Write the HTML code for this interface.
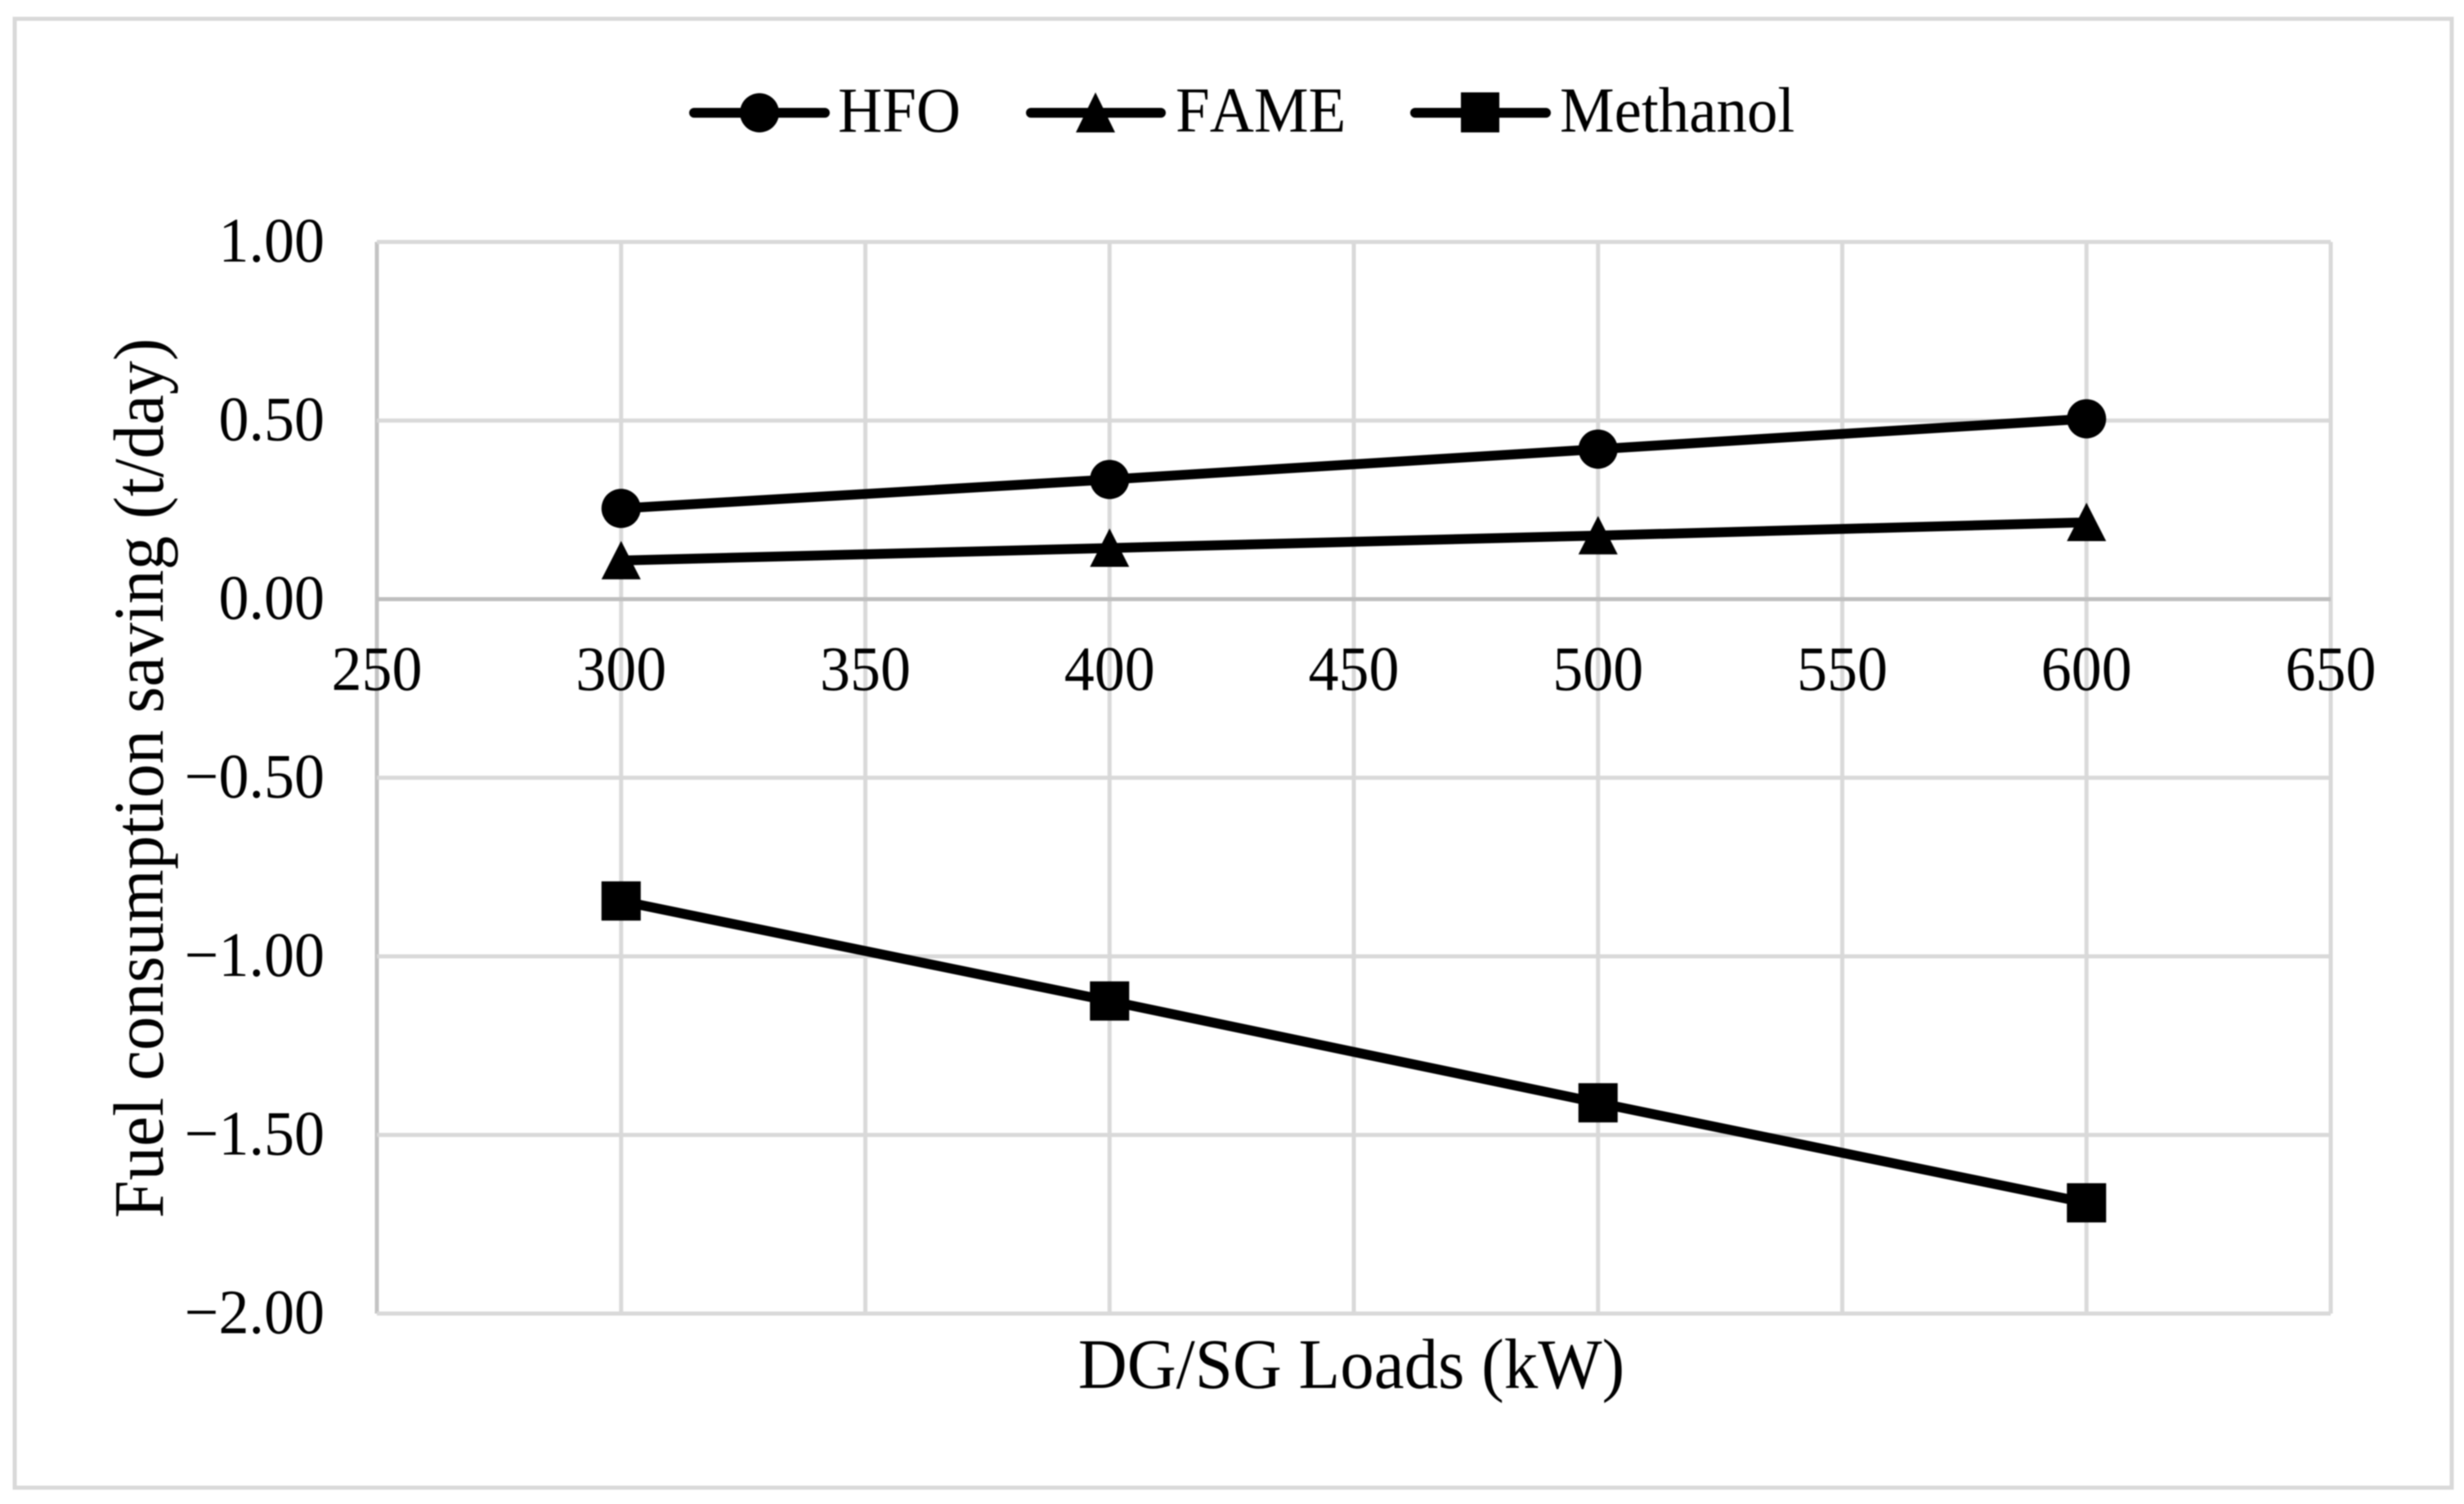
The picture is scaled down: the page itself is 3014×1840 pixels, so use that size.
<!DOCTYPE html>
<html lang="en">
<head>
<meta charset="utf-8">
<title>Fuel consumption saving vs DG/SG loads</title>
<style>
  html, body { margin: 0; padding: 0; background: #fff; }
  svg { display: block; filter: blur(0.7px); }
  text { font-family: "Liberation Serif", serif; fill: #000; font-size: 74px; font-kerning: none; }
</style>
</head>
<body>
<svg id="chart" xmlns="http://www.w3.org/2000/svg" width="3014" height="1840" viewBox="0 0 3014 1840">
  <rect x="0" y="0" width="3014" height="1840" fill="#fff"/>
  <rect x="18" y="23" width="2981" height="1797" fill="#fff" stroke="#d9d9d9" stroke-width="5"/>
  <g id="grid"></g>
  <g id="ticks"></g>
  <g id="series"></g>

  <g>
    <g>
      <line x1="849" y1="138" x2="1009" y2="138" stroke="#000" stroke-width="12" stroke-linecap="round"/>
      <circle cx="929" cy="138" r="24" fill="#000"/>
      <text style="font-size:75px" transform="translate(1025 161) scale(1 1.05)">HFO</text>
    </g>
    <g>
      <line x1="1261" y1="138" x2="1420" y2="138" stroke="#000" stroke-width="12" stroke-linecap="round"/>
      <polygon points="1340,113 1364,162 1316,162" fill="#000"/>
      <text style="font-size:75px" transform="translate(1438 161) scale(1 1.05)">FAME</text>
    </g>
    <g>
      <line x1="1731" y1="138" x2="1891" y2="138" stroke="#000" stroke-width="12" stroke-linecap="round"/>
      <rect x="1787" y="113" width="47" height="49" fill="#000"/>
      <text style="font-size:75px" transform="translate(1908 161) scale(1 1.05)">Methanol</text>
    </g>
  </g>

  <text style="font-size:83px" transform="translate(1653 1698) scale(1 1.05)" text-anchor="middle">DG/SG Loads (kW)</text>
  <text style="font-size:83px" transform="translate(199 952) rotate(-90) scale(1 1.05)" text-anchor="middle">Fuel consumption saving (t/day)</text>
</svg>

<script>
const xTicks = [250, 300, 350, 400, 450, 500, 550, 600, 650];
const yTicks = [1, 0.5, 0, -0.5, -1, -1.5, -2];
const categories = [300, 400, 500, 600];
const hfoValues = [0.254, 0.335, 0.42, 0.505];
const fameValues = [0.108, 0.143, 0.178, 0.215];
const methanolValues = [-0.845, -1.125, -1.41, -1.69];

const NS = 'http://www.w3.org/2000/svg';
const plot = { left: 461, right: 2851, top: 296, bottom: 1607 };
const xMin = 250, xMax = 650, yMin = -2, yMax = 1;

function xScale(v) {
  return plot.left + (v - xMin) / (xMax - xMin) * (plot.right - plot.left);
}
function yScale(v) {
  return plot.top + (yMax - v) / (yMax - yMin) * (plot.bottom - plot.top);
}
function make(tag, attrs) {
  const el = document.createElementNS(NS, tag);
  Object.keys(attrs).forEach(function (k) { el.setAttribute(k, attrs[k]); });
  return el;
}
function formatY(v) {
  const s = Math.abs(v).toFixed(2);
  return v < 0 ? '\u2212' + s : s;
}

const grid = document.getElementById('grid');
const ticks = document.getElementById('ticks');
const seriesGroup = document.getElementById('series');

xTicks.forEach(function (t) {
  const x = xScale(t);
  const edge = t === xMin;
  const line = make('line', { x1: x, y1: plot.top, x2: x, y2: plot.bottom, stroke: edge ? '#c4c4c4' : '#d9d9d9', 'stroke-width': 5 });
  
  
  grid.appendChild(line);
});

yTicks.forEach(function (t) {
  const y = yScale(t);
  const line = make('line', { x1: plot.left, y1: y, x2: plot.right, y2: y, stroke: t === 0 ? '#bfbfbf' : '#d9d9d9', 'stroke-width': 5 });
  
  
  grid.appendChild(line);

  const label = make('text', { transform: 'translate(397 ' + (y + 24) + ') scale(1 1.04)', 'text-anchor': 'end' });
  label.textContent = formatY(t);
  
  
  ticks.appendChild(label);
});

xTicks.forEach(function (t) {
  const label = make('text', { transform: 'translate(' + xScale(t) + ' 844) scale(1 1.04)', 'text-anchor': 'middle' });
  label.textContent = String(t);
  
  
  ticks.appendChild(label);
});

function drawMarker(kind, cx, cy) {
  if (kind === 'circle') {
    return make('circle', { cx: cx, cy: cy, r: 24, fill: '#000' });
  }
  if (kind === 'triangle') {
    return make('polygon', { points: cx + ',' + (cy - 24) + ' ' + (cx + 24) + ',' + (cy + 23) + ' ' + (cx - 24) + ',' + (cy + 23), fill: '#000' });
  }
  return make('rect', { x: cx - 24, y: cy - 24, width: 48, height: 48, fill: '#000' });
}

function drawSeries(name, values, kind) {
  const pts = values.map(function (v, i) {
    return xScale(categories[i]) + ',' + yScale(v);
  }).join(' ');
  const line = make('polyline', { points: pts, fill: 'none', stroke: '#000', 'stroke-width': 12, 'stroke-linejoin': 'round' });
  
  
  seriesGroup.appendChild(line);

  values.forEach(function (v, i) {
    const m = drawMarker(kind, xScale(categories[i]), yScale(v));
    
    
    seriesGroup.appendChild(m);
  });
}

drawSeries('hfo', hfoValues, 'circle');
drawSeries('fame', fameValues, 'triangle');
drawSeries('methanol', methanolValues, 'square');
</script>
</body>
</html>
